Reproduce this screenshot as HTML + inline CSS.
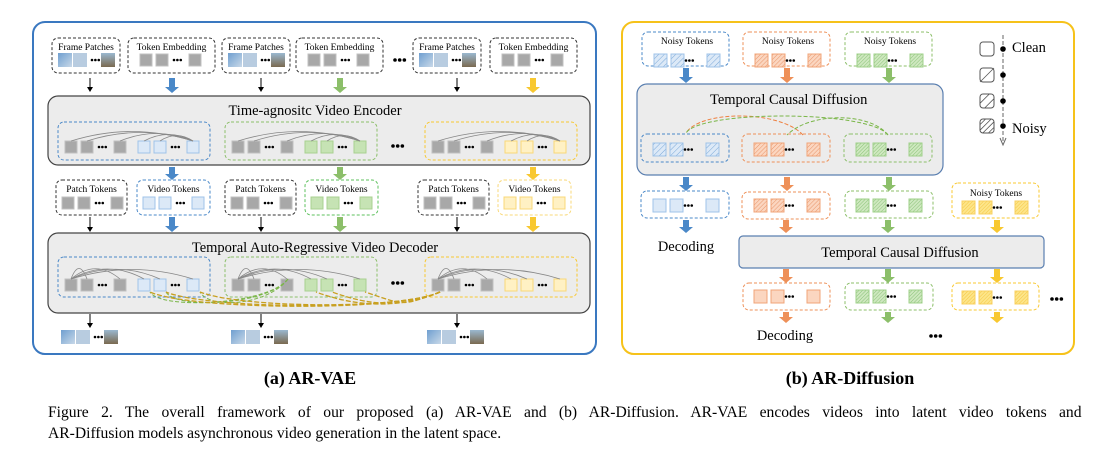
<!DOCTYPE html>
<html><head><meta charset="utf-8"><style>
body{margin:0;background:#fff;}
svg{display:block;font-family:"Liberation Serif",serif;}
</style></head><body>
<svg id="s" width="1104" height="453" viewBox="0 0 1104 453" xmlns="http://www.w3.org/2000/svg">
<defs>
<pattern id="hb" width="4" height="4" patternUnits="userSpaceOnUse" patternTransform="rotate(45)"><line x1="0" y1="0" x2="0" y2="4" stroke="#7aa8d8" stroke-width="1"/></pattern>
<pattern id="ho" width="3" height="3" patternUnits="userSpaceOnUse" patternTransform="rotate(45)"><line x1="0" y1="0" x2="0" y2="3" stroke="#e8956a" stroke-width="1"/></pattern>
<pattern id="hg" width="2.5" height="2.5" patternUnits="userSpaceOnUse" patternTransform="rotate(45)"><line x1="0" y1="0" x2="0" y2="2.5" stroke="#8cc47a" stroke-width="1"/></pattern>
<pattern id="hy" width="2.5" height="2.5" patternUnits="userSpaceOnUse" patternTransform="rotate(45)"><line x1="0" y1="0" x2="0" y2="2.5" stroke="#f5c842" stroke-width="1"/></pattern>
<linearGradient id="img" x1="0" y1="0" x2="1" y2="1"><stop offset="0" stop-color="#6f9fd0"/><stop offset="1" stop-color="#c8d8e8"/></linearGradient>
<linearGradient id="img2" x1="0" y1="0" x2="0" y2="1"><stop offset="0" stop-color="#9ab8d0"/><stop offset="1" stop-color="#7a6a50"/></linearGradient>
</defs>
<g id="g"></g>
<text id="c1" x="48" y="417" font-size="15.6">Figure 2. The overall framework of our proposed (a) AR-VAE and (b) AR-Diffusion. AR-VAE encodes videos into latent video tokens and</text>
<text x="48" y="438" font-size="15.6">AR-Diffusion models asynchronous video generation in the latent space.</text>
</svg>
<script>
var o='';
function R(x,y,w,h,rx,f,s,sw,da){o+='<rect x="'+x+'" y="'+y+'" width="'+w+'" height="'+h+'" rx="'+rx+'" fill="'+f+'" stroke="'+s+'" stroke-width="'+(sw||1)+'"'+(da?' stroke-dasharray="'+da+'"':'')+'/>';}
function T(x,y,t,fs,a,extra){o+='<text x="'+x+'" y="'+y+'" font-size="'+fs+'" text-anchor="'+(a||'middle')+'" '+(extra||'')+'>'+t+'</text>';}
function dots(x,y,r,c){for(var i=0;i<3;i++)o+='<circle cx="'+(x+i*r*2.6)+'" cy="'+y+'" r="'+r+'" fill="'+(c||'#000')+'"/>';}
function toks(x,y,sz,f,s,pat){var xs=[x,x+sz+4,x+3*sz+14];xs.forEach(function(xx){R(xx,y,sz,sz,0,f,s,1);if(pat)R(xx,y,sz,sz,0,'url(#'+pat+')',s,1);});dots(x+2*sz+6,y+sz/2,1.3);}
function grey(x,y){var xs=[x,x+16,x+49];xs.forEach(function(xx){R(xx,y,12,12,0,'#a8a8a8','#c0c0c0',1)});dots(x+34,y+6,1.3);}
function imgs(x,y){R(x,y,14,14,0,'url(#img)','none');R(x+15,y,14,14,0,'#b8cce0','none');dots(x+34,y+7,1.3);R(x+43,y,14,14,0,'url(#img2)','none');}
function thin(x,y1,y2){o+='<line x1="'+x+'" y1="'+y1+'" x2="'+x+'" y2="'+(y2-4)+'" stroke="#000" stroke-width="1"/><path d="M'+(x-3)+' '+(y2-5)+'L'+(x+3)+' '+(y2-5)+'L'+x+' '+y2+'Z"/>';}
function fat(x,y1,y2,c){var m=y2-6;o+='<path d="M'+(x-3)+' '+y1+'H'+(x+3)+'V'+m+'H'+(x+7)+'L'+x+' '+y2+'L'+(x-7)+' '+m+'H'+(x-3)+'Z" fill="'+c+'"/>';}
var B='#4a88c8',G='#8cbf6a',Y='#f8c830',O='#ee9058';
R(33,22,563,332,12,'none','#3a78c0',2);
var cols=[[52,128],[222,296],[413,490]];
cols.forEach(function(c){
 R(c[0],38,68,35,6,'#fff','#333',1,'3,2');T(c[0]+34,50,'Frame Patches',9.5);imgs(c[0]+6,53);
 R(c[1],38,87,35,6,'#fff','#333',1,'3,2');T(c[1]+43.5,50,'Token Embedding',9.5);grey(c[1]+12,54);
});
thin(90,78,92);thin(261,78,92);thin(457,78,92);
fat(172,78,93,B);fat(340,78,93,G);fat(533,78,93,Y);
dots(395,60,1.8);
R(48,96,542,69,10,'#ececec','#444',1.2);T(315,115,'Time-agnositc Video Encoder',14.5);
R(48,233,542,80,10,'#ececec','#444',1.2);T(315,252,'Temporal Auto-Regressive Video Decoder',14.5);
var inx=[58,225,425],sc=[B,G,Y],tf=[['#dce9f7','#9fc3e8'],['#c6e3b4','#a8d090'],['#fff1c4','#f8d878']];
inx.forEach(function(x,i){
 R(x,122,152,38,6,'none',sc[i],1,'3,2');
 R(x,257,152,40,6,'none',sc[i],1,'3,2');
 grey(x+7,141);grey(x+7,279);
 var vx=[x+80,x+96,x+129];vx.forEach(function(xx){R(xx,141,12,12,0,tf[i][0],tf[i][1],1);R(xx,279,12,12,0,tf[i][0],tf[i][1],1);});
 dots(x+114,147,1.3);dots(x+114,285,1.3);
 var tx=x+135;[x+13,x+29,x+62,x+86,x+102].forEach(function(sx,k){o+='<path d="M'+sx+' 141 Q'+(sx+tx)/2+' '+(122+k*2)+' '+tx+' 141" fill="none" stroke="#888" stroke-width="0.8"/>';});
 var fx=x+13;[x+29,x+62,x+86,x+102,x+135].forEach(function(ex,k){o+='<path d="M'+fx+' 279 Q'+(fx+ex)/2+' '+(258+k*0.5)+' '+ex+' 279" fill="none" stroke="#888" stroke-width="0.8"/>';});
});
dots(393,146,1.8);dots(393,283,1.8);
fat(172,167,180,B);fat(340,167,180,G);fat(533,167,180,Y);
var r2=[[56,137,'#333','#dce9f7','#9fc3e8',B],[225,305,'#333','#c6e3b4','#a8d090','#5cc05c'],[418,498,'#333','#fff1c4','#f8d878','#f8d878']];
r2.forEach(function(c){
 R(c[0],180,71,35,6,'#fff','#333',1,'3,2');T(c[0]+35.5,192,'Patch Tokens',9.5);grey(c[0]+6,197);
 R(c[1],180,73,35,6,'#fff',c[5],1,'3,2');T(c[1]+36.5,192,'Video Tokens',9.5);
 [c[1]+6,c[1]+22,c[1]+55].forEach(function(xx){R(xx,197,12,12,0,c[3],c[4],1)});dots(c[1]+40,203,1.3);
});
thin(90,217,232);thin(261,217,232);thin(457,217,232);
fat(172,217,232,B);fat(340,217,232,G);fat(533,217,232,Y);
[[288,150],[288,166],[288,200]].forEach(function(e){o+='<path d="M'+e[0]+' 279 C'+(e[0]-20)+' 305 '+(e[1]+10)+' 310 '+e[1]+' 292" fill="none" stroke="#7ab648" stroke-width="1" stroke-dasharray="4,2"/>';});
[[440,150],[440,166],[440,200],[440,316],[440,332],[440,365]].forEach(function(e,k){o+='<path d="M'+e[0]+' 292 C'+(e[0]-40)+' '+(312-k)+' '+(e[1]+40)+' '+(310-k)+' '+e[1]+' 292" fill="none" stroke="#c8a020" stroke-width="1.3" stroke-dasharray="5,2"/>';});
thin(90,314,328);thin(261,314,328);thin(457,314,328);
imgs(61,330);imgs(231,330);imgs(427,330);
T(310,384,'(a) AR-VAE',18,'middle','font-weight="bold"');
R(622,22,452,332,12,'none','#f6c21a',2);
var rc=[[642,B,'#dce9f7','#9fc3e8','hb'],[743,O,'#fbd6c0','#f0a478','ho'],[845,G,'#cfe8c0','#9fd08a','hg']];
rc.forEach(function(c){
 R(c[0],32,87,34,6,'#fff',c[1],1,'3,2');T(c[0]+45,44,'Noisy Tokens',9.5);toks(c[0]+12,54,13,c[2],c[3],c[4]);
 fat(c[0]+44,68,83,c[1]);
});
R(637,84,306,91,10,'#ececec','#5a7fb0',1.2);T(710,104,'Temporal Causal Diffusion',14.5,'start');
rc.forEach(function(c){R(c[0]-1,134,88,28,6,'none',c[1],1,'3,2');toks(c[0]+11,143,13,c[2],c[3],c[4]);fat(c[0]+44,177,191,c[1]);});
o+='<path d="M803 135 C780 110 700 110 686 133" fill="none" stroke="#ee8040" stroke-width="1" stroke-dasharray="4,2"/>';
o+='<path d="M888 135 C870 110 700 110 686 133" fill="none" stroke="#7ab648" stroke-width="1" stroke-dasharray="4,2"/>';
o+='<path d="M888 135 C870 112 810 112 787 135" fill="none" stroke="#7ab648" stroke-width="1" stroke-dasharray="4,2"/>';
R(641,191,88,27,6,'#fff',B,1,'3,2');toks(653,199,13,'#dce9f7','#9fc3e8');
R(742,192,88,27,6,'#fff',O,1,'3,2');toks(754,199,13,'#fbd6c0','#f0a478','ho');
R(845,191,88,27,6,'#fff',G,1,'3,2');toks(856,199,13,'#cfe8c0','#9fd08a','hg');
R(952,183,87,35,6,'#fff',Y,1,'3,2');T(996,196,'Noisy Tokens',9.5);toks(962,201,13,'#fde58a','#f8d060','hy');
fat(686,220,233,B);fat(786,220,233,O);fat(888,220,233,G);fat(997,220,233,Y);
T(686,251,'Decoding',14.5);
R(739,236,305,32,4,'#ececec','#5a7fb0',1.2);T(900,257,'Temporal Causal Diffusion',14.5);
fat(786,269,283,O);fat(888,269,283,G);fat(997,269,283,Y);
R(743,283,87,27,6,'#fff',O,1,'3,2');toks(754,290,13,'#fbd6c0','#f0a478');
R(845,283,88,27,6,'#fff',G,1,'3,2');toks(856,290,13,'#cfe8c0','#9fd08a','hg');
R(952,283,87,27,6,'#fff',Y,1,'3,2');toks(962,291,13,'#fde58a','#f8d060','hy');
dots(1052,299,1.8);
fat(786,312,323,O);fat(888,312,323,G);fat(997,312,323,Y);
T(785,340,'Decoding',14.5);dots(931,336,1.8);
o+='<line x1="1003" y1="35" x2="1003" y2="142" stroke="#666" stroke-width="1" stroke-dasharray="4,2"/><path d="M1000 138 L1003 145 L1006 138" fill="none" stroke="#666"/>';
[[42],[68],[94],[119]].forEach(function(l,i){R(980,l[0],14,14,3,'#fff','#555',1);if(i>0){var n=i==1?1:(i==2?2:4);for(var k=1;k<=n;k++){var d=28*k/(n+1);o+='<line x1="'+(980+Math.max(0,d-14))+'" y1="'+(l[0]+Math.min(14,d))+'" x2="'+(980+Math.min(14,d))+'" y2="'+(l[0]+Math.max(0,d-14))+'" stroke="#555" stroke-width="0.8"/>';}}o+='<circle cx="1003" cy="'+(l[0]+7)+'" r="2.8" fill="#000"/>';});
T(1012,52,'Clean',14.5,'start');T(1012,133,'Noisy',14.5,'start');
T(850,384,'(b) AR-Diffusion',18,'middle','font-weight="bold"');
document.getElementById('g').innerHTML=o;
var c1=document.getElementById('c1');
try{var w=c1.getComputedTextLength();var ws=(1042-w)/21;c1.setAttribute('word-spacing',ws);}catch(e){}
</script>
</body></html>
